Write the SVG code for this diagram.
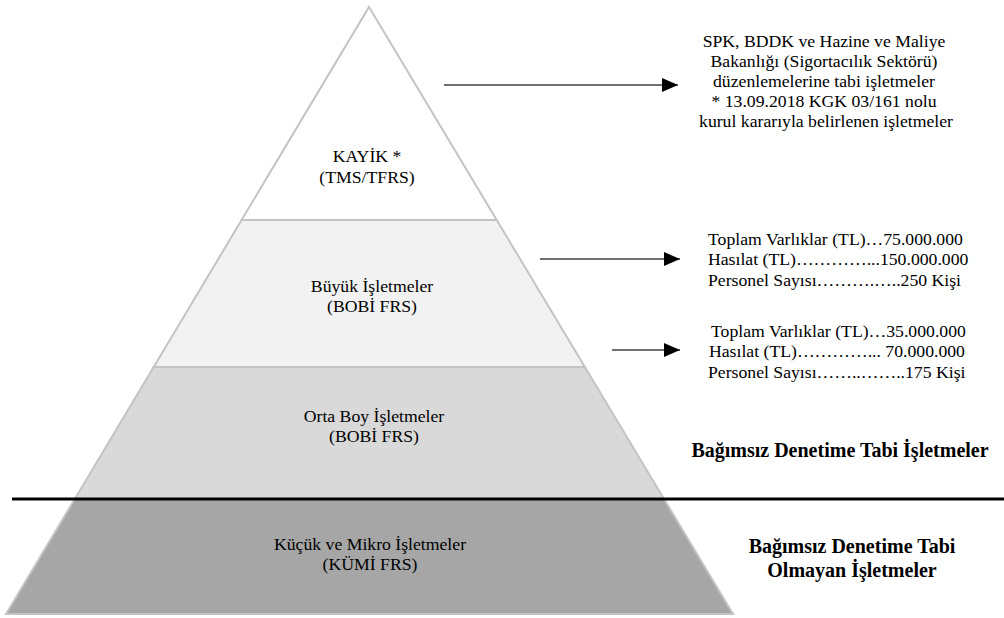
<svg xmlns="http://www.w3.org/2000/svg" width="1004" height="618" viewBox="0 0 1004 618">
  <style>
    .layer { stroke: #c4c4c4; stroke-width: 2; stroke-linejoin: miter; }
    .t { font-family: "Liberation Serif", "Times New Roman", serif; font-size: 17.7px; fill: #000; }
    .c { text-anchor: middle; }
    .b { font-weight: bold; font-size: 20px; text-anchor: middle; }
    .arrow { stroke: #404040; stroke-width: 1.3; fill: none; marker-end: url(#ah); }
  </style>
  <defs>
    <marker id="ah" markerUnits="userSpaceOnUse" markerWidth="16" markerHeight="16" viewBox="0 0 16 16" refX="16" refY="8" orient="auto">
      <path d="M0,1 L16,8 L0,15 Z" fill="#000"/>
    </marker>
  </defs>
  <rect width="1004" height="618" fill="#fff"/>

  <g id="node-kucuk">
    <polygon class="layer" points="74.8,499 664,499 733,614 6,614" fill="#a6a6a6"/>
    <text class="t c" x="370" y="550">Küçük ve Mikro İşletmeler</text>
    <text class="t c" x="370" y="570">(KÜMİ FRS)</text>
  </g>
  <g id="node-orta">
    <polygon class="layer" points="153.7,367 584.9,367 664,499 74.8,499" fill="#d9d9d9"/>
    <text class="t c" x="374" y="422">Orta Boy İşletmeler</text>
    <text class="t c" x="374" y="442">(BOBİ FRS)</text>
  </g>
  <g id="node-buyuk">
    <polygon class="layer" points="241.6,220 496.7,220 584.9,367 153.7,367" fill="#f2f2f2"/>
    <text class="t c" x="372" y="292">Büyük İşletmeler</text>
    <text class="t c" x="372" y="312">(BOBİ FRS)</text>
  </g>
  <g id="node-kayik">
    <polygon class="layer" points="369,7 496.7,220 241.6,220" fill="#fff"/>
    <text class="t c" x="367" y="162">KAYİK *</text>
    <text class="t c" x="367" y="183">(TMS/TFRS)</text>
  </g>

  <g id="separator">
    <line x1="12" y1="499" x2="1004" y2="499" stroke="#000" stroke-width="3"/>
  </g>

  <g id="connectors">
    <line class="arrow" x1="444" y1="85" x2="678" y2="85"/>
    <line class="arrow" x1="540" y1="259" x2="680" y2="259"/>
    <line class="arrow" x1="612" y1="350" x2="680" y2="350"/>
  </g>

  <g id="note-kayik">
    <text class="t c" x="824" y="47">SPK, BDDK ve Hazine ve Maliye</text>
    <text class="t c" x="824" y="67">Bakanlığı (Sigortacılık Sektörü)</text>
    <text class="t c" x="824" y="87">düzenlemelerine tabi işletmeler</text>
    <text class="t c" x="824" y="107">* 13.09.2018 KGK 03/161 nolu</text>
    <text class="t c" x="826" y="127">kurul kararıyla belirlenen işletmeler</text>
  </g>

  <g id="note-buyuk">
    <text class="t" x="708" y="244.5">Toplam Varlıklar (TL)…75.000.000</text>
    <text class="t" x="708" y="265">Hasılat (TL)…………...150.000.000</text>
    <text class="t" x="708" y="285.5">Personel Sayısı……….…..250 Kişi</text>
  </g>

  <g id="note-orta">
    <text class="t" x="711" y="336.5">Toplam Varlıklar (TL)…35.000.000</text>
    <text class="t" x="709" y="357">Hasılat (TL)…………...  70.000.000</text>
    <text class="t" x="708" y="377.5">Personel Sayısı……..……..175 Kişi</text>
  </g>

  <g id="label-denetim">
    <text class="t b" x="840" y="457">Bağımsız Denetime Tabi İşletmeler</text>
  </g>
  <g id="label-nodenetim">
    <text class="t b" x="852" y="553">Bağımsız Denetime Tabi</text>
    <text class="t b" x="852" y="577">Olmayan İşletmeler</text>
  </g>
</svg>
